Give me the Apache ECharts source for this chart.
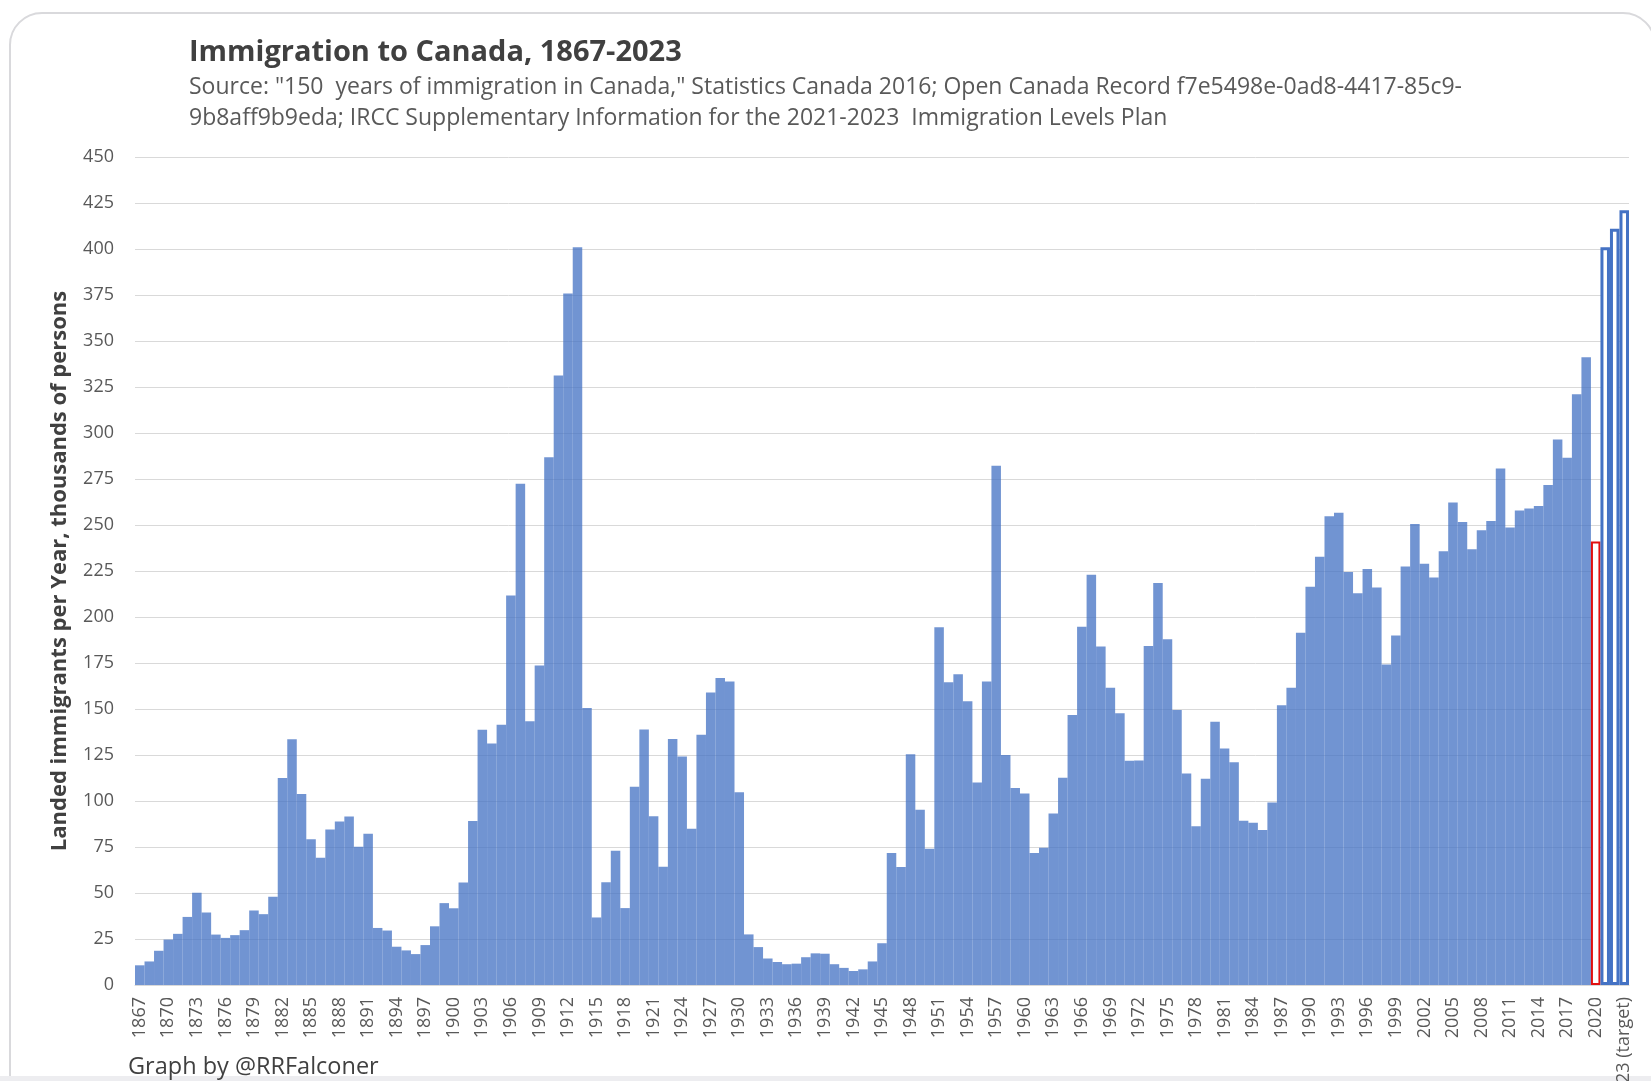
<!DOCTYPE html>
<html>
<head>
<meta charset="utf-8">
<script src="https://cdn.jsdelivr.net/npm/echarts@6/dist/echarts.min.js"></script>
<style>
html,body{margin:0;padding:0;background:#ffffff;}
#chart{width:1651px;height:1081px;}
</style>
</head>
<body>
<div id="chart"></div>
<script>
// ---- DATA ----
const years = [
 '1867','1868','1869','1870','1871','1872','1873','1874','1875','1876',
 '1877','1878','1879','1880','1881','1882','1883','1884','1885','1886',
 '1887','1888','1889','1890','1891','1892','1893','1894','1895','1896',
 '1897','1898','1899','1900','1901','1902','1903','1904','1905','1906',
 '1907','1908','1909','1910','1911','1912','1913','1914','1915','1916',
 '1917','1918','1919','1920','1921','1922','1923','1924','1925','1926',
 '1927','1928','1929','1930','1931','1932','1933','1934','1935','1936',
 '1937','1938','1939','1940','1941','1942','1943','1944','1945','1946',
 '1947','1948','1949','1950','1951','1952','1953','1954','1955','1956',
 '1957','1958','1959','1960','1961','1962','1963','1964','1965','1966',
 '1967','1968','1969','1970','1971','1972','1973','1974','1975','1976',
 '1977','1978','1979','1980','1981','1982','1983','1984','1985','1986',
 '1987','1988','1989','1990','1991','1992','1993','1994','1995','1996',
 '1997','1998','1999','2000','2001','2002','2003','2004','2005','2006',
 '2007','2008','2009','2010','2011','2012','2013','2014','2015','2016',
 '2017','2018','2019','2020','2021','2022','2023 (target)'
];
// landed immigrants, thousands (1867-2019 actual)
const actual = [
 10.7, 12.8, 18.6, 24.7, 27.8, 37.0, 50.1, 39.4, 27.4, 25.6,
 27.1, 29.8, 40.5, 38.5, 48.0, 112.5, 133.6, 103.8, 79.2, 69.2,
 84.5, 88.8, 91.6, 75.1, 82.2, 31.0, 29.6, 20.8, 18.8, 16.8,
 21.7, 31.9, 44.5, 41.7, 55.7, 89.1, 138.7, 131.3, 141.5, 211.7,
 272.4, 143.3, 173.7, 286.8, 331.3, 375.8, 400.9, 150.5, 36.7, 55.9,
 72.9, 41.8, 107.7, 138.8, 91.7, 64.2, 133.7, 124.2, 84.9, 136.0,
 158.9, 166.8, 165.0, 104.8, 27.5, 20.6, 14.4, 12.5, 11.3, 11.6,
 15.1, 17.2, 17.0, 11.3, 9.3, 7.6, 8.5, 12.8, 22.7, 71.7,
 64.1, 125.4, 95.2, 74.0, 194.4, 164.5, 168.9, 154.2, 110.0, 164.9,
 282.2, 125.0, 107.0, 104.1, 71.7, 74.6, 93.2, 112.6, 146.8, 194.7,
 222.9, 184.0, 161.5, 147.7, 121.9, 122.0, 184.2, 218.5, 187.9, 149.4,
 114.9, 86.3, 112.1, 143.1, 128.6, 121.1, 89.2, 88.2, 84.3, 99.2,
 152.1, 161.6, 191.5, 216.5, 232.8, 254.8, 256.7, 224.4, 212.9, 226.1,
 216.0, 174.2, 190.0, 227.5, 250.6, 229.0, 221.4, 235.8, 262.2, 251.6,
 236.8, 247.2, 252.2, 280.7, 248.7, 257.9, 259.0, 260.3, 271.8, 296.4,
 286.5, 321.0, 341.2
];
const value2020 = [241];          // 2020 (red outline)
const targets = [401, 411, 421];  // 2021-2023 levels plan targets
const yTicks = {min: 0, max: 450, interval: 25};

const titleText = 'Immigration to Canada, 1867-2023';
const subText = 'Source: "150  years of immigration in Canada," Statistics Canada 2016; Open Canada Record f7e5498e-0ad8-4417-85c9-\n9b8aff9b9eda; IRCC Supplementary Information for the 2021-2023  Immigration Levels Plan';
const yName = 'Landed immigrants per Year, thousands of persons';
const credit = 'Graph by @RRFalconer';

// ---- BUILD ----
const FONT = '"Open Sans", "Noto Sans", sans-serif';
const seriesData = [];
actual.forEach(v => seriesData.push(v));
value2020.forEach(v => seriesData.push({
  value: v,
  itemStyle: {color: '#ffffff', borderColor: '#e01010', borderWidth: 2}
}));
targets.forEach(v => seriesData.push({
  value: v,
  itemStyle: {color: '#ffffff', borderColor: '#4472C4', borderWidth: 3}
}));

const chart = echarts.init(document.getElementById('chart'), null, {renderer: 'canvas'});
chart.setOption({
  animation: false,
  backgroundColor: '#ffffff',
  title: [
    {text: titleText, left: 189, top: 38, padding: 0,
     textStyle: {fontFamily: FONT, fontSize: 29, fontWeight: 'bold', color: '#404040'}},
    {text: subText, left: 189, top: 72, padding: 0,
     textStyle: {fontFamily: FONT, fontSize: 23, fontWeight: 'normal', color: '#595959', lineHeight: 31}}
  ],
  graphic: [
    {type: 'rect', z: -10, silent: true,
     shape: {x: 10, y: 13, width: 1645, height: 1200, r: 32},
     style: {fill: '#ffffff', stroke: '#d9d9dc', lineWidth: 2}},
    {type: 'rect', z: -5, silent: true,
     shape: {x: 0, y: 1076, width: 1651, height: 5},
     style: {fill: '#ededf0'}},
    {type: 'text', left: 128, top: 1055, z: 10,
     style: {text: credit, fontFamily: FONT, fontSize: 23.5, fill: '#404040'}}
  ],
  grid: {left: 135, right: 22, top: 157, bottom: 96, containLabel: false, outerBoundsMode: 'none'},
  xAxis: {
    type: 'category',
    data: years,
    boundaryGap: true,
    axisLine: {show: true, lineStyle: {color: '#d9d9d9', width: 1}},
    axisTick: {show: false},
    axisLabel: {interval: 2, rotate: 90, margin: 12, fontFamily: FONT, fontSize: 18, color: '#595959'}
  },
  yAxis: {
    type: 'value',
    min: yTicks.min, max: yTicks.max, interval: yTicks.interval,
    name: yName,
    nameLocation: 'middle',
    nameGap: 64,
    nameTextStyle: {fontFamily: FONT, fontSize: 22, fontWeight: 'bold', color: '#404040'},
    axisLine: {show: false},
    axisTick: {show: false},
    axisLabel: {margin: 21, fontFamily: FONT, fontSize: 18, color: '#595959'},
    splitLine: {lineStyle: {color: '#d9d9d9', width: 1}}
  },
  series: [{
    type: 'bar',
    data: seriesData,
    barCategoryGap: '0%',
    barGap: '0%',
    itemStyle: {color: 'rgba(68,114,196,0.76)'},
    emphasis: {disabled: true}
  }]
});
</script>
</body>
</html>
